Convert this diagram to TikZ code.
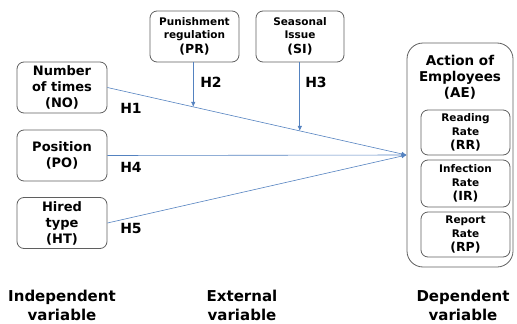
\documentclass[tikz,border=0pt]{standalone}
\usepackage{fontspec}
\setmainfont{DejaVu Sans}
\usetikzlibrary{arrows.meta,calc}

\definecolor{linkblue}{RGB}{84,130,192}
\definecolor{boxgray}{RGB}{95,95,95}

\tikzstyle{var} = [draw=boxgray, line width=0.8pt, rounded corners=7pt, align=center, inner sep=0pt,
	font=\bfseries\fontsize{13}{16}\selectfont, minimum width=90pt, minimum height=51pt]
\tikzstyle{small} = [var, font=\bfseries\fontsize{10.5}{13.5}\selectfont, minimum height=45pt]
\tikzstyle{hyp} = [font=\bfseries\fontsize{14}{16}\selectfont]
\tikzstyle{group} = [align=center, font=\bfseries\fontsize{15}{19}\selectfont]
\tikzstyle{link} = [draw=linkblue, line width=0.6pt, -{Latex[length=5pt,width=4.5pt]}]
\newcommand{\abbr}[1]{{\fontsize{12.5}{15}\selectfont #1}}

\begin{document}
\begin{tikzpicture}[x=1pt,y=-1pt]
	\useasboundingbox (0,0) rectangle (517,324);
	\node[var] (no) at (62,87.5) {Number\\of times\\(NO)};
	\node[var] (po) at (62,155.5) {Position\\(PO)};
	\node[var] (ht) at (62,223) {Hired\\type\\(HT)};
	\node[small, minimum width=89pt, minimum height=51pt] (pr) at (194.5,36.5) {Punishment\\regulation\\[1.5pt]\abbr{(PR)}};
	\node[small, minimum width=88pt, minimum height=51pt] (si) at (300,36.5) {Seasonal\\Issue\\[1.5pt]\abbr{(SI)}};
	\node[var, rounded corners=16pt, minimum width=106pt, minimum height=224pt] (ae) at (460,155) {};
	\node[align=center, font=\bfseries\fontsize{13.5}{16}\selectfont] (aet) at (460,77) {Action of\\Employees\\(AE)};
	\node[small, minimum width=89pt] (rr) at (465.5,132.5) {Reading\\Rate\\[1pt]\abbr{(RR)}};
	\node[small, minimum width=89pt, minimum height=47pt] (ir) at (465.5,183.5) {Infection\\Rate\\[1pt]\abbr{(IR)}};
	\node[small, minimum width=89pt] (rp) at (465.5,234.5) {Report\\Rate\\[1pt]\abbr{(RP)}};
	\draw[link] (no.east) -- (ae.west);
	\draw[link] (po.east) -- (ae.west);
	\draw[link] (ht.east) -- (ae.west);
	\coordinate (prend) at ($(no.east)!0.287!(ae.west)$);
	\coordinate (siend) at ($(no.east)!0.643!(ae.west)$);
	\draw[link] (pr.south -| prend) -- (prend);
	\draw[link] (si.south -| siend) -- (siend);
	\node[hyp] (h1) at (131,108) {H1};
	\node[hyp] (h2) at (211,82) {H2};
	\node[hyp] (h3) at (316,82) {H3};
	\node[hyp] (h4) at (131,167) {H4};
	\node[hyp] (h5) at (131,228) {H5};
	\node[group] (iv) at (62,305) {Independent\\variable};
	\node[group] (ev) at (242,305) {External\\variable};
	\node[group] (dv) at (463,305) {Dependent\\variable};
\end{tikzpicture}
\end{document}
